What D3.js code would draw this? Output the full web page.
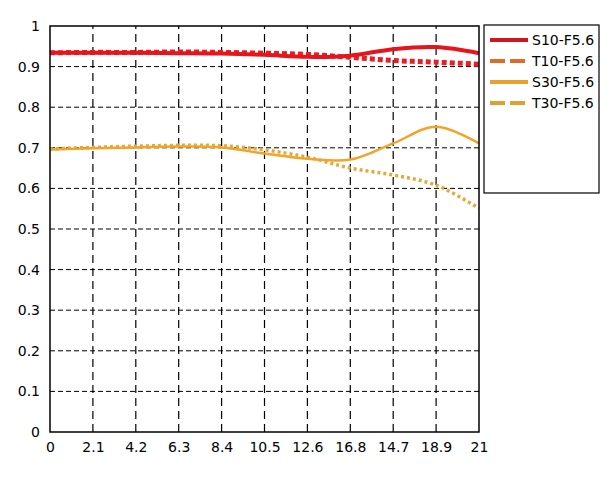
<!DOCTYPE html>
<html>
<head>
<meta charset="utf-8">
<script src="https://cdn.jsdelivr.net/npm/d3@7"></script>
<style>
  body { margin: 0; background: #fff; }
  svg { display: block; font-family: "DejaVu Sans", sans-serif; }
</style>
</head>
<body>
<div id="chart"></div>
<script>
let width = 614;
let height = 480;
let margin = ({top: 26, right: 135, bottom: 48, left: 50});

// x positions (one per tick) and the labels printed under them
let xValues = [0, 2.1, 4.2, 6.3, 8.4, 10.5, 12.6, 14.7, 16.8, 18.9, 21];
let xLabels = ["0", "2.1", "4.2", "6.3", "8.4", "10.5", "12.6", "16.8", "14.7", "18.9", "21"];
let yTicks = [0, 0.1, 0.2, 0.3, 0.4, 0.5, 0.6, 0.7, 0.8, 0.9, 1];

let seriesNames = ["S10-F5.6", "T10-F5.6", "S30-F5.6", "T30-F5.6"];
let s10 = [0.934, 0.934, 0.934, 0.933, 0.932, 0.929, 0.924, 0.927, 0.943, 0.948, 0.933];
let t10 = [0.934, 0.935, 0.935, 0.936, 0.935, 0.933, 0.930, 0.923, 0.915, 0.911, 0.906];
let s30 = [0.696, 0.699, 0.701, 0.703, 0.701, 0.686, 0.673, 0.671, 0.711, 0.752, 0.711];
let t30 = [0.697, 0.701, 0.704, 0.706, 0.705, 0.695, 0.677, 0.650, 0.633, 0.608, 0.551];

let lineColors = ["#e8141c", "#e81e26", "#f0a428", "#e8a838"];
let legendColors = ["#d0161e", "#e06a28", "#e8a030", "#e0a030"];
let lineWidths = [4, 5, 2.5, 3.5];
let lineDash = [null, "5,3", null, "3,3"];
let legendDash = [null, "15,5", null, "15,5"];

let series = [s10, t10, s30, t30];

let x = d3.scaleLinear()
    .domain([0, 21])
    .range([margin.left, width - margin.right]);
let y = d3.scaleLinear()
    .domain([0, 1])
    .range([height - margin.bottom, margin.top]);

let svg = d3.select("#chart")
    .append("svg")
    .attr("width", width)
    .attr("height", height);

// grid
svg.append("g")
    .attr("stroke", "#000")
    .attr("stroke-width", 1)
    .attr("stroke-dasharray", "5,3")
    .selectAll("line")
    .data(yTicks.slice(1, -1))
    .join("line")
    .attr("x1", x(0)).attr("x2", x(21))
    .attr("y1", d => y(d)).attr("y2", d => y(d));

svg.append("g")
    .attr("stroke", "#000")
    .attr("stroke-width", 1.2)
    .attr("stroke-dasharray", "8,5")
    .selectAll("line")
    .data(xValues.slice(1, -1))
    .join("line")
    .attr("x1", d => x(d)).attr("x2", d => x(d))
    .attr("y1", y(0)).attr("y2", y(1));

// lines
let line = d3.line()
    .x((d, i) => x(xValues[i]))
    .y(d => y(d))
    .curve(d3.curveCatmullRom);

svg.append("g")
    .attr("fill", "none")
    .selectAll("path")
    .data([3, 2, 1, 0])
    .join("path")
    .attr("d", k => line(series[k]))
    .attr("stroke", k => lineColors[k])
    .attr("stroke-width", k => lineWidths[k])
    .attr("stroke-dasharray", k => lineDash[k]);

// frame
svg.append("rect")
    .attr("x", x(0)).attr("y", y(1))
    .attr("width", x(21) - x(0)).attr("height", y(0) - y(1))
    .attr("fill", "none")
    .attr("stroke", "#000")
    .attr("stroke-width", 1.5);

// axes
let xAxis = g => g
    .attr("transform", `translate(0,${y(0)})`)
    .call(d3.axisBottom(x).tickValues(xValues).tickFormat((d, i) => xLabels[i]).tickSize(0).tickPadding(10))
    .call(g => g.select(".domain").remove());
let yAxis = g => g
    .attr("transform", `translate(${x(0)},0)`)
    .call(d3.axisLeft(y).tickValues(yTicks).tickFormat(d3.format("")).tickSize(0).tickPadding(10))
    .call(g => g.select(".domain").remove());

svg.append("g").call(xAxis)
    .selectAll("text").attr("font-size", 14).attr("font-family", "DejaVu Sans").attr("fill", "#000");
svg.append("g").call(yAxis)
    .selectAll("text").attr("font-size", 14).attr("font-family", "DejaVu Sans").attr("fill", "#000");

// legend
let legend = svg.append("g").attr("transform", "translate(484,25)");
legend.append("rect")
    .attr("width", 115).attr("height", 168)
    .attr("fill", "#fff").attr("stroke", "#000").attr("stroke-width", 1.2);

let rows = legend.selectAll("g")
    .data(seriesNames)
    .join("g")
    .attr("transform", (d, i) => `translate(0,${15 + i * 21})`);
rows.append("line")
    .attr("x1", 6).attr("x2", 44)
    .attr("stroke", (d, i) => legendColors[i])
    .attr("stroke-width", 4)
    .attr("stroke-dasharray", (d, i) => legendDash[i]);
rows.append("text")
    .attr("x", 48).attr("dy", "0.35em")
    .attr("font-size", 14)
    .text(d => d);
</script>
</body>
</html>
